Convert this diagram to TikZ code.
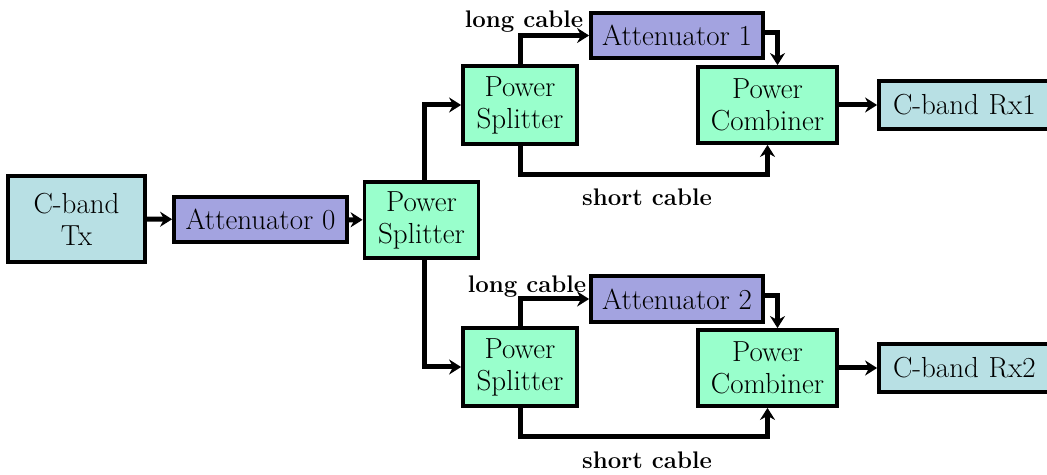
\documentclass[tikz,border=0pt]{standalone}
\usetikzlibrary{arrows.meta}
\definecolor{txc}{RGB}{184,224,228}
\definecolor{attc}{RGB}{163,163,224}
\definecolor{pwc}{RGB}{153,255,204}
\begin{document}
\begin{tikzpicture}[x=1pt,y=1pt,
  box/.style={draw=black,line width=3.8pt,align=center,inner sep=0pt,
    font=\fontsize{29}{32}\selectfont},
  txbox/.style={box,fill=txc},
  attbox/.style={box,fill=attc},
  pwbox/.style={box,fill=pwc},
  conn/.style={line width=5pt,-{Stealth[length=12pt,width=15pt]}},
  lbl/.style={font=\fontsize{24}{26}\selectfont\bfseries,inner sep=0pt}]
\useasboundingbox (0,0) rectangle (1047,474);
\clip (0,0) rectangle (1047,474);
\node[txbox,minimum width=137pt,minimum height=86pt] (tx) at (76.5,255) {C-band\\Tx};
\node[attbox,minimum width=173pt,minimum height=45pt] (att0) at (260.5,254.5) {Attenuator 0};
\node[pwbox,minimum width=114pt,minimum height=76pt] (ps0) at (421.5,254) {Power\\Splitter};
\node[pwbox,minimum width=114pt,minimum height=78pt] (ps1) at (520,369) {Power\\Splitter};
\node[attbox,minimum width=172pt,minimum height=45pt] (att1) at (677,438.5) {Attenuator 1};
\node[pwbox,minimum width=139pt,minimum height=76pt] (pc1) at (767.5,369) {Power\\Combiner};
\node[txbox,minimum width=182pt,minimum height=48pt,text width=154pt,align=left] (rx1) at (970,369) {C-band Rx1};
\node[pwbox,minimum width=114pt,minimum height=78pt] (ps2) at (520,107) {Power\\Splitter};
\node[attbox,minimum width=172pt,minimum height=46pt] (att2) at (677,175) {Attenuator 2};
\node[pwbox,minimum width=139pt,minimum height=76pt] (pc2) at (767.5,106) {Power\\Combiner};
\node[txbox,minimum width=182pt,minimum height=48pt,text width=154pt,align=left] (rx2) at (970,106) {C-band Rx2};

\draw[conn] (tx) -- (att0);
\draw[conn] (att0) -- (ps0);
\draw[conn] ([xshift=3pt]ps0.north) |- (ps1.west);
\draw[conn] ([xshift=3pt]ps0.south) |- (ps2.west);
\draw[conn] (ps1.north) |- (att1.west);
\draw[conn] ([yshift=3pt]att1.east) -| ([xshift=10pt]pc1.north);
\draw[conn] (ps1.south) -- ++(0,-29) -| (pc1.south);
\draw[conn] (pc1) -- (rx1);
\draw[conn] (ps2.north) |- (att2.west);
\draw[conn] ([yshift=3pt]att2.east) -| ([xshift=10pt]pc2.north);
\draw[conn] (ps2.south) -- ++(0,-29) -| (pc2.south);
\draw[conn] (pc2) -- (rx2);

\node[lbl] (l1) at (524,452) {long cable};
\node[lbl] (s1) at (647,277) {short cable};
\node[lbl] (l2) at (527,187) {long cable};
\node[lbl] (s2) at (647,14) {short cable};
\end{tikzpicture}
\end{document}
